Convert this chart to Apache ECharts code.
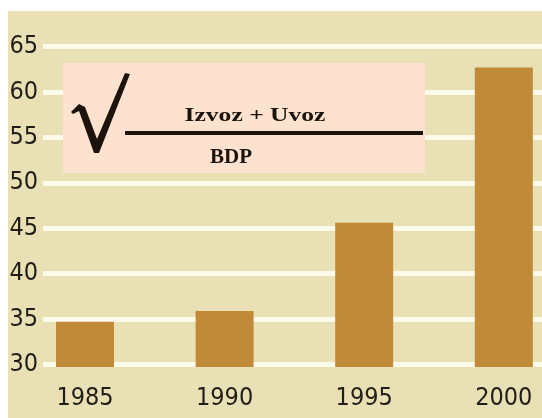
<!DOCTYPE html>
<html>
<head>
<meta charset="utf-8">
<script src="https://cdn.jsdelivr.net/npm/echarts@6/dist/echarts.min.js"></script>
<style>
  body { margin: 0; background: #fff; }
  #bg { position: absolute; left: 8px; top: 11px; width: 534px; height: 407px; background: #e9e1b5; }
  #chart { position: absolute; left: 0; top: 0; width: 542px; height: 418px; }
</style>
</head>
<body>
<div id="bg"></div>
<div id="chart"></div>
<script>
// data
const years = ['1985', '1990', '1995', '2000']
const values = [34.7, 35.9, 45.6, 62.7]
const yMin = 30
const yMax = 65
const yStep = 5

const labelFont = "'Liberation Sans Narrow', 'DejaVu Sans Condensed', sans-serif"
const ink = '#201e16'

const myChart = echarts.init(document.getElementById('chart'))
myChart.setOption({
  animation: false,
  grid: [
    // bars (band runs past the right edge like the original)
    { left: 15.2, top: 46.7, width: 558.4, height: 320.3, outerBoundsMode: 'none' },
    // white grid lines + y labels
    { left: 43, right: 0, top: 46.7, height: 317.8, outerBoundsMode: 'none' }
  ],
  xAxis: [
    {
      gridIndex: 0,
      type: 'category',
      data: years,
      axisLine: { show: false },
      axisTick: { show: false },
      axisLabel: { fontFamily: labelFont, fontSize: 25, color: ink, margin: 19 }
    },
    { gridIndex: 1, type: 'value', show: false }
  ],
  yAxis: [
    { gridIndex: 0, type: 'value', min: 29.72, max: yMax, show: false },
    {
      gridIndex: 1,
      type: 'value',
      min: yMin,
      max: yMax,
      interval: yStep,
      axisLine: { show: false },
      axisTick: { show: false },
      axisLabel: { fontFamily: labelFont, fontSize: 25, color: ink, margin: 5, padding: [5, 0, 0, 0] },
      splitLine: { lineStyle: { color: '#fdfbec', width: 5 } }
    }
  ],
  series: [
    {
      type: 'bar',
      xAxisIndex: 0,
      yAxisIndex: 0,
      data: values,
      barWidth: 58,
      itemStyle: { color: '#c08a38' }
    }
  ],
  graphic: [
    { type: 'rect', z: 100, shape: { x: 63, y: 63, width: 362, height: 110 }, style: { fill: '#fde3cf' } },
    {
      type: 'polygon',
      z: 101,
      shape: {
        points: [[71, 112], [79, 104], [85, 107], [97, 139], [125, 73], [130, 74], [99, 153], [94, 153], [79, 111], [73, 114]]
      },
      style: { fill: '#1c140c' }
    },
    { type: 'rect', z: 101, shape: { x: 125, y: 131, width: 298, height: 4 }, style: { fill: '#1c140c' } },
    {
      type: 'text',
      z: 101,
      x: 255,
      y: 116,
      scaleX: 1.42,
      style: {
        text: 'Izvoz + Uvoz',
        font: "bold 18px 'Liberation Serif', 'DejaVu Serif', serif",
        fill: '#1c140c',
        textAlign: 'center',
        textVerticalAlign: 'middle'
      }
    },
    {
      type: 'text',
      z: 101,
      x: 231,
      y: 158,
      scaleX: 1.05,
      style: {
        text: 'BDP',
        font: "bold 20px 'Liberation Serif', 'DejaVu Serif', serif",
        fill: '#1c140c',
        textAlign: 'center',
        textVerticalAlign: 'middle'
      }
    }
  ]
})
</script>
</body>
</html>
